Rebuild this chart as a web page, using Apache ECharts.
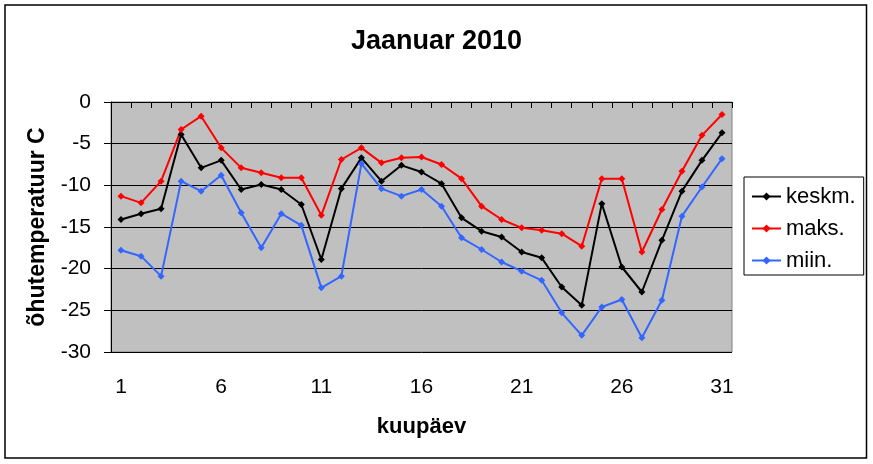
<!DOCTYPE html>
<html>
<head>
<meta charset="utf-8">
<script src="https://cdn.jsdelivr.net/npm/echarts@6/dist/echarts.min.js"></script>
<style>
html,body{margin:0;padding:0;background:#fff;}
#c{width:873px;height:464px;}
</style>
</head>
<body>
<div id="c"></div>
<script>
const days = ['1','2','3','4','5','6','7','8','9','10','11','12','13','14','15','16','17','18','19','20','21','22','23','24','25','26','27','28','29','30','31'];
const keskm = [-14.1,-13.4,-12.8,-3.9,-7.9,-7.0,-10.5,-9.9,-10.5,-12.3,-18.9,-10.4,-6.7,-9.5,-7.6,-8.4,-9.8,-13.9,-15.5,-16.2,-18.0,-18.7,-22.2,-24.4,-12.2,-19.8,-22.8,-16.6,-10.7,-7.0,-3.7];
const maks = [-11.3,-12.1,-9.5,-3.3,-1.7,-5.5,-7.9,-8.5,-9.1,-9.1,-13.6,-6.9,-5.5,-7.3,-6.7,-6.6,-7.5,-9.2,-12.5,-14.1,-15.1,-15.4,-15.8,-17.3,-9.2,-9.2,-18.0,-12.9,-8.3,-4.0,-1.5];
const miin = [-17.8,-18.5,-20.9,-9.5,-10.7,-8.8,-13.3,-17.5,-13.4,-14.8,-22.3,-20.9,-7.4,-10.4,-11.3,-10.5,-12.5,-16.3,-17.7,-19.2,-20.3,-21.4,-25.3,-28.0,-24.6,-23.7,-28.3,-23.8,-13.7,-10.2,-6.8];
const seriesNames = ['keskm.','maks.','miin.'];
const seriesColors = ['#000000','#FF0000','#3366FF'];

const FONT = '"Liberation Sans", Arial, sans-serif';
const chart = echarts.init(document.getElementById('c'));
function mk(name, data, color){
  return {
    name: name, type: 'line', data: data,
    symbol: 'diamond', symbolSize: 7,
    lineStyle: {color: color, width: 2},
    itemStyle: {color: color},
    emphasis: {disabled: true},
    animation: false
  };
}
chart.setOption({
  animation: false,
  textStyle: {fontFamily: FONT},
  title: {
    text: 'Jaanuar 2010', left: 'center', top: 23,
    textStyle: {fontFamily: FONT, fontSize: 27, fontWeight: 'bold', color: '#000'}
  },
  graphic: [{
    type: 'rect', silent: true, z: -1,
    shape: {x: 5, y: 5, width: 861.5, height: 453},
    style: {fill: 'none', stroke: '#000', lineWidth: 1.5}
  }],
  legend: {
    orient: 'vertical', left: 744, top: 177,
    padding: [7, 8, 2, 7],
    itemGap: 7,
    itemWidth: 29, itemHeight: 10,
    borderColor: '#000', borderWidth: 1,
    data: seriesNames,
    textStyle: {fontFamily: FONT, fontSize: 22, color: '#000', lineHeight: 25}
  },
  grid: {
    left: 111, right: 141, top: 102, bottom: 112,
    show: true, backgroundColor: '#C0C0C0', borderColor: '#808080', borderWidth: 1
  },
  xAxis: {
    type: 'category', data: days, boundaryGap: true,
    name: 'kuupäev', nameLocation: 'middle', nameGap: 64,
    nameTextStyle: {fontFamily: FONT, fontSize: 22, fontWeight: 'bold', color: '#000'},
    axisLine: {lineStyle: {color: '#000', width: 1}},
    axisTick: {show: true, interval: 0, length: 6, lineStyle: {color: '#000'}},
    axisLabel: {interval: 4, margin: 25, fontFamily: FONT, fontSize: 21, color: '#000'},
    splitLine: {show: false}
  },
  yAxis: {
    type: 'value', min: -30, max: 0, interval: 5,
    name: 'õhutemperatuur C', nameLocation: 'middle', nameRotate: 90, nameGap: 62,
    nameTextStyle: {fontFamily: FONT, fontSize: 23, fontWeight: 'bold', color: '#000'},
    axisLine: {show: true, lineStyle: {color: '#000', width: 1}},
    axisTick: {show: true, length: 7, lineStyle: {color: '#000'}},
    axisLabel: {margin: 20, fontFamily: FONT, fontSize: 21, color: '#000'},
    splitLine: {show: true, lineStyle: {color: ['#000','#000','#000','#000','#000','#000','#808080'], width: 1}}
  },
  series: [
    mk(seriesNames[0], keskm, seriesColors[0]),
    mk(seriesNames[1], maks, seriesColors[1]),
    mk(seriesNames[2], miin, seriesColors[2])
  ]
});
</script>
</body>
</html>
